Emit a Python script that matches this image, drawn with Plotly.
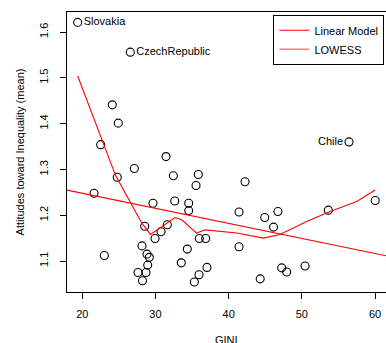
import plotly.graph_objects as go
import numpy as np

# ---- data ----
gini = [19.37, 26.56, 24.10, 24.92, 22.51, 31.44, 27.11, 24.78, 21.60, 29.66,
        28.53, 29.94, 30.76, 31.62, 23.01, 28.16, 28.84, 29.16, 28.94, 27.61,
        28.71, 28.23, 32.44, 35.85, 35.54, 42.24, 32.63, 34.54, 34.54, 41.42,
        44.93, 35.99, 36.86, 34.35, 41.42, 33.53, 37.04, 35.95, 35.31, 44.31,
        56.45, 46.74, 46.13, 53.62, 60.03, 47.25, 47.93, 50.44]
attitude = [1.621, 1.556, 1.441, 1.401, 1.354, 1.328, 1.302, 1.283, 1.248, 1.226,
            1.176, 1.149, 1.164, 1.179, 1.112, 1.133, 1.115, 1.108, 1.091, 1.075,
            1.075, 1.057, 1.286, 1.289, 1.265, 1.273, 1.231, 1.226, 1.210, 1.207,
            1.195, 1.149, 1.149, 1.126, 1.131, 1.096, 1.086, 1.070, 1.054, 1.061,
            1.360, 1.208, 1.174, 1.211, 1.232, 1.085, 1.076, 1.089]
labels = [""] * len(gini)
labels[0] = "Slovakia"
labels[1] = "CzechRepublic"
labels[40] = "Chile"

lm_intercept = 1.3137
lm_slope = -0.003287
lm_x = [17.909, 61.503]

lowess_x = [19.37, 24.54, 28.16, 29.32, 32.67, 33.58, 35.63, 36.77, 41.14,
            44.74, 47.02, 50.67, 53.85, 57.50, 60.03]
lowess_y = [1.504, 1.287, 1.182, 1.158, 1.195, 1.190, 1.161, 1.168, 1.161,
            1.150, 1.158, 1.186, 1.208, 1.230, 1.255]

x_ticks = [20, 30, 40, 50, 60]
y_ticks = [1.1, 1.2, 1.3, 1.4, 1.5, 1.6]

FONT = "Liberation Sans, Arial, Helvetica, sans-serif"

fig = go.Figure()

# points (labelled ones get text)
plain_idx = [i for i, l in enumerate(labels) if l == ""]
fig.add_trace(go.Scatter(
    x=[gini[i] for i in plain_idx], y=[attitude[i] for i in plain_idx],
    mode="markers", showlegend=False,
    marker=dict(symbol="circle-open", size=8, color="black", line=dict(width=1.1, color="black")),
))
right_idx = [0, 1]
fig.add_trace(go.Scatter(
    x=[gini[i] for i in right_idx], y=[attitude[i] for i in right_idx],
    text=[labels[i] for i in right_idx],
    mode="markers+text", textposition="middle right", showlegend=False,
    textfont=dict(size=11, color="black", family=FONT),
    marker=dict(symbol="circle-open", size=8, color="black", line=dict(width=1.1, color="black")),
))
fig.add_trace(go.Scatter(
    x=[gini[40]], y=[attitude[40]], text=[labels[40]],
    mode="markers+text", textposition="middle left", showlegend=False,
    textfont=dict(size=11, color="black", family=FONT),
    marker=dict(symbol="circle-open", size=8, color="black", line=dict(width=1.1, color="black")),
))

# linear model line
lm_y = [lm_intercept + lm_slope * v for v in lm_x]
fig.add_trace(go.Scatter(x=lm_x, y=lm_y, mode="lines", showlegend=False,
                         line=dict(color="#ff0000", width=1.1)))
# LOWESS line
fig.add_trace(go.Scatter(x=lowess_x, y=lowess_y, mode="lines", showlegend=False,
                         line=dict(color="#ff0000", width=1.1)))

# legend entries
fig.add_trace(go.Scatter(x=[None], y=[None], mode="lines", name="Linear Model",
                         line=dict(color="#ff0000", width=1.1)))
fig.add_trace(go.Scatter(x=[None], y=[None], mode="lines", name="LOWESS",
                         line=dict(color="#ff8080", width=1.6)))

fig.update_layout(
    width=386, height=343,
    margin=dict(l=67, r=0, t=12, b=51),
    paper_bgcolor="white", plot_bgcolor="white",
    font=dict(family=FONT, size=11, color="black"),
    showlegend=True,
    legend=dict(x=0.995, y=0.99, xanchor="right", yanchor="top",
                bordercolor="black", borderwidth=1, bgcolor="white",
                font=dict(size=11), tracegroupgap=0, itemwidth=30),
    xaxis=dict(range=[17.909, 61.503], tickvals=x_ticks, showgrid=False, zeroline=False,
               showline=True, mirror=True, linecolor="black", linewidth=1,
               ticks="outside", ticklen=6, tickcolor="black", ticklabelstandoff=6),
    yaxis=dict(range=[1.0323, 1.6437], tickvals=y_ticks, showgrid=False, zeroline=False,
               showline=True, linecolor="black", linewidth=1,
               ticks="outside", ticklen=6, tickcolor="black", tickangle=-90,
               ticklabelstandoff=8,
               title=dict(text="Attitudes toward Inequality (mean)", standoff=10, font=dict(size=11))),
    annotations=[dict(text="GINI", xref="paper", yref="paper", x=0.5, y=-0.171,
                      xanchor="center", yanchor="middle", showarrow=False,
                      font=dict(size=11, family=FONT, color="black"))],
)

fig.write_html("out.html")
